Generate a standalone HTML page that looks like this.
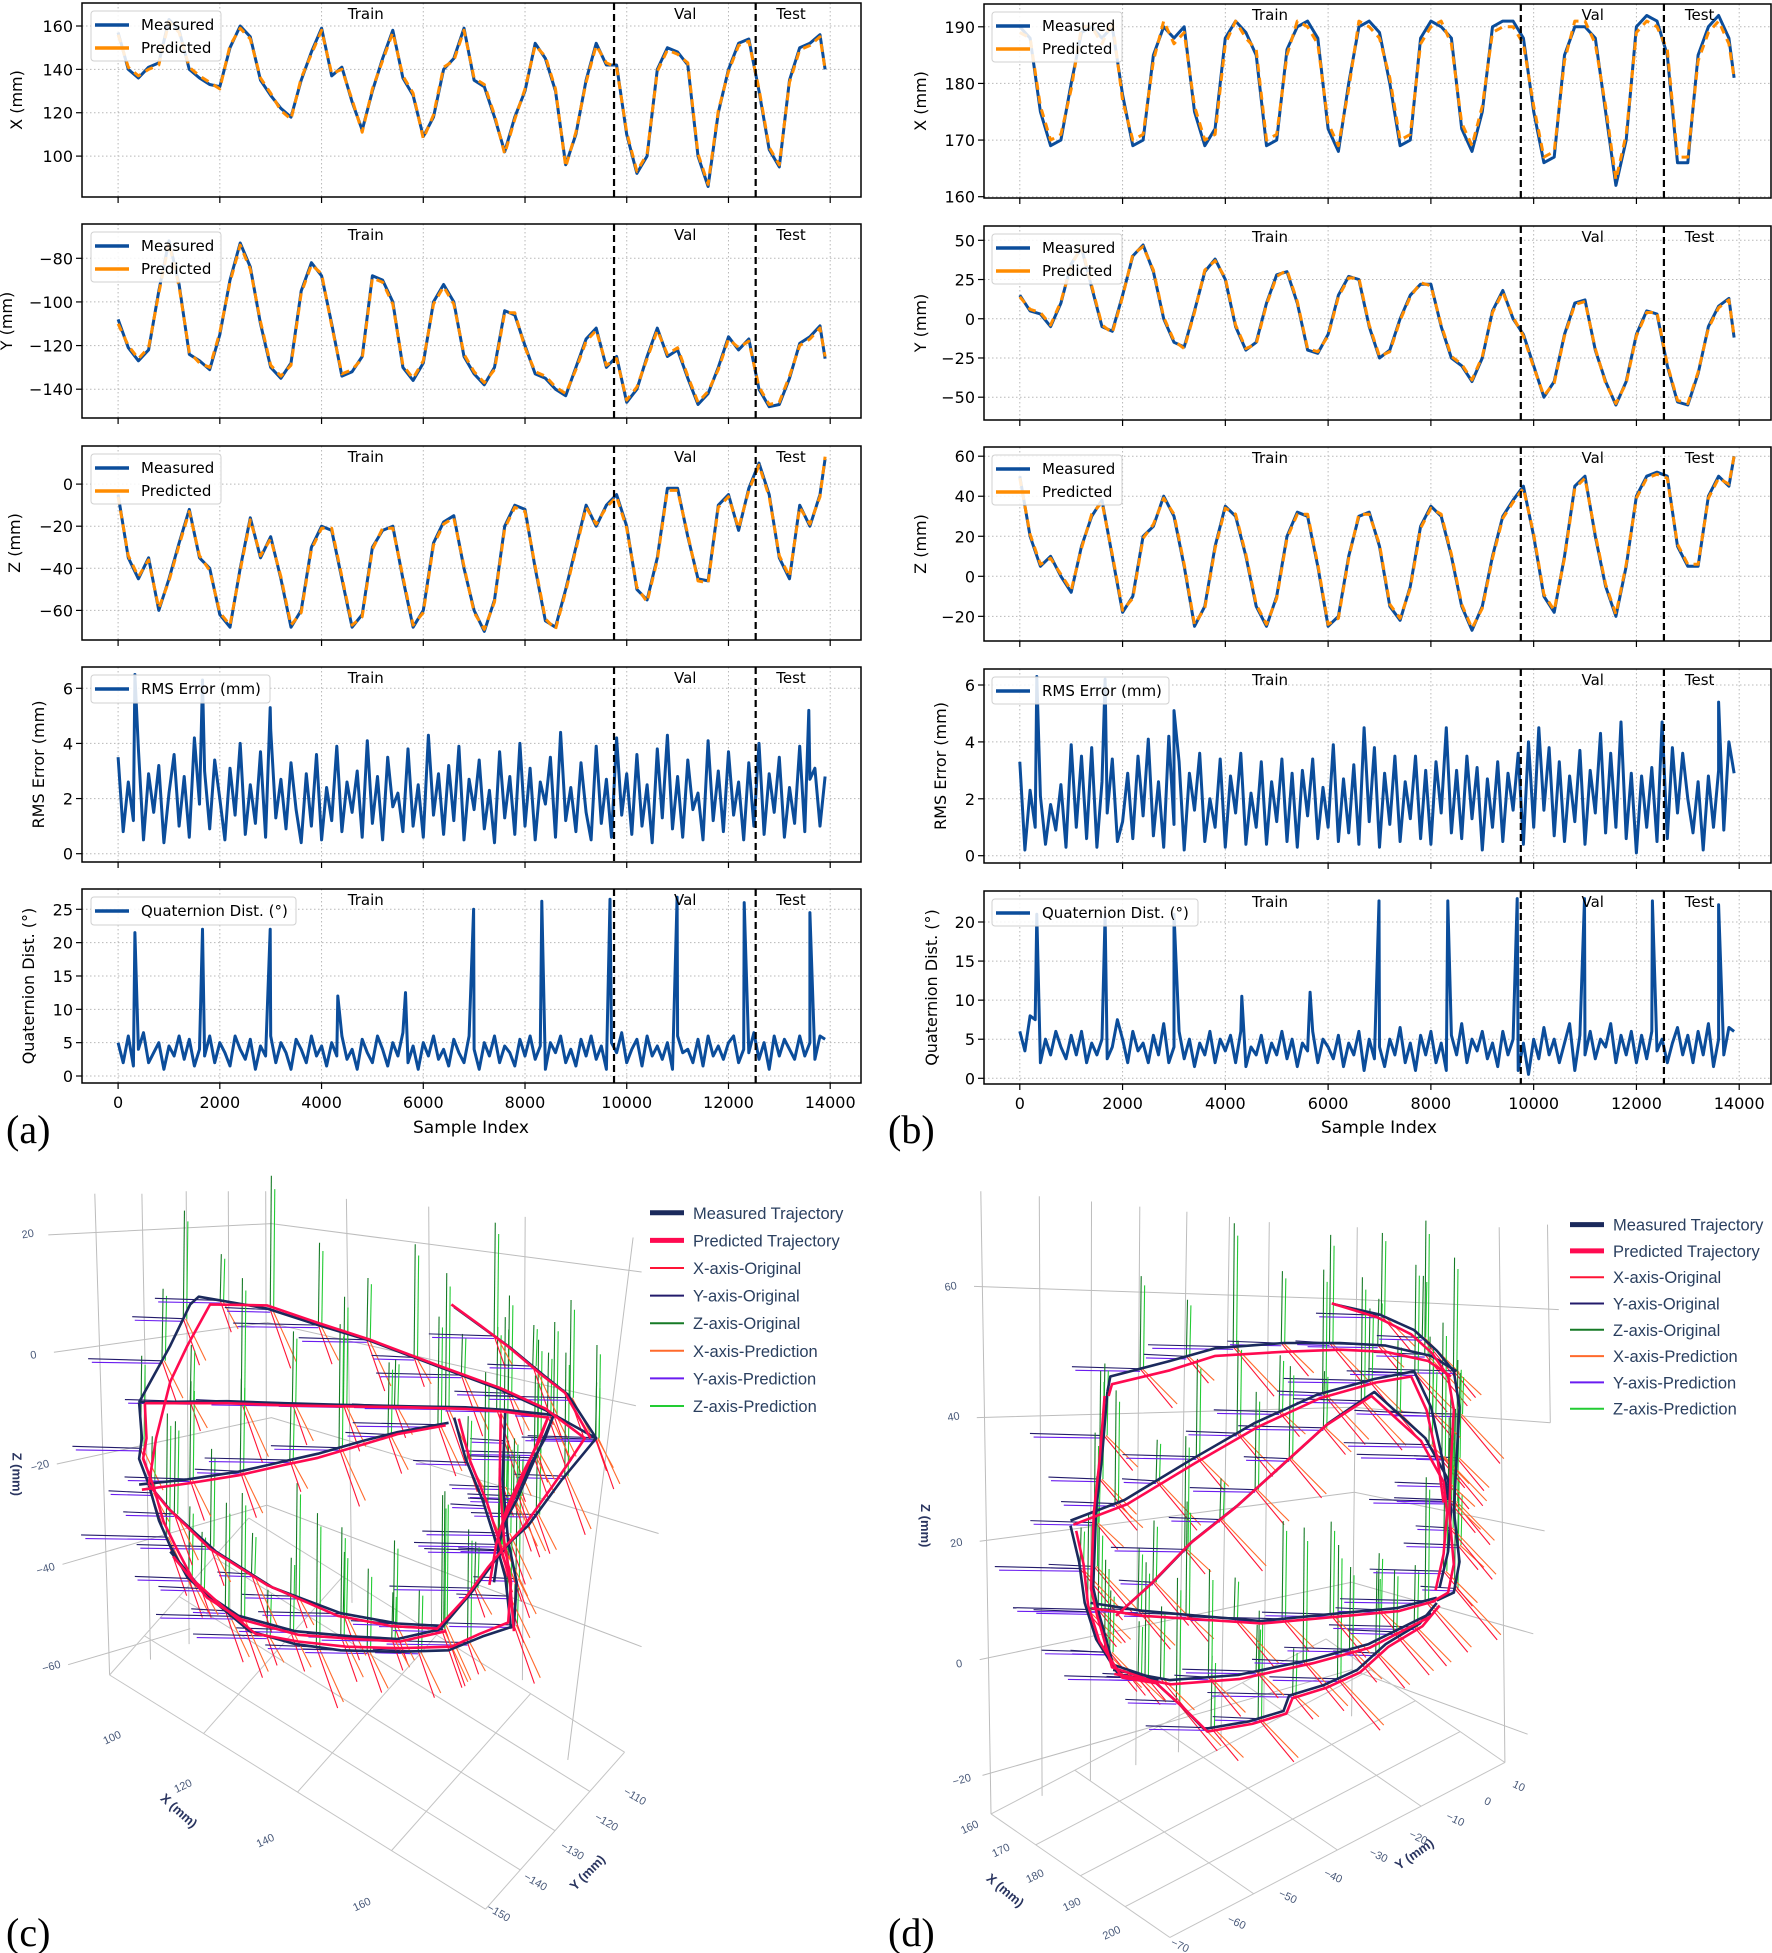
<!DOCTYPE html>
<html><head><meta charset="utf-8"><title>Trajectory prediction figure</title>
<style>html,body{margin:0;padding:0;background:#fff;}svg{display:block;}</style></head>
<body>
<svg id="fig" width="1772" height="1953" viewBox="0 0 1772 1953" xmlns="http://www.w3.org/2000/svg" font-family="'DejaVu Sans', sans-serif">
<rect x="0" y="0" width="1772" height="1953" fill="#fff"/>
</svg>
<script>
// ---------------- DATA ----------------
const sampleIdx = [0,200,400,600,800,1000,1200,1400,1600,1800,2000,2200,2400,2600,2800,3000,3200,3400,3600,3800,4000,4200,4400,4600,4800,5000,5200,5400,5600,5800,6000,6200,6400,6600,6800,7000,7200,7400,7600,7800,8000,8200,8400,8600,8800,9000,9200,9400,9600,9800,10000,10200,10400,10600,10800,11000,11200,11400,11600,11800,12000,12200,12400,12600,12800,13000,13200,13400,13600,13800,13900];
const xTickVals = [0,2000,4000,6000,8000,10000,12000,14000];
const xTickLabels = ['0','2000','4000','6000','8000','10000','12000','14000'];
const splitVal = 9750, splitTest = 12535;
const sectionNames = ['Train','Val','Test'];
const sectionPos = [4870,11150,13230];

// (a) left
const aXMeas = [157,140,136,141,143,163,158,140,136,133,132,150,160,155,135,128,122,118,135,148,159,137,141,125,112,130,145,158,136,128,109,118,140,145,159,135,132,118,102,118,130,152,145,130,96,110,135,152,142,142,110,92,100,140,150,148,142,100,86,120,140,152,154,130,103,95,135,150,152,156,140];
const aXPred = [156,141,137,140,142,162,157,141,137,134,131,151,159,154,136,129,121,117,136,147,158,138,140,126,111,131,144,157,137,129,108,119,141,144,158,136,133,119,101,117,131,151,146,131,95,111,134,151,143,141,111,93,101,139,149,147,143,101,87,121,139,151,153,131,104,96,134,149,151,155,140];
const aYMeas = [-108,-121,-127,-122,-95,-72,-92,-124,-127,-131,-115,-90,-73,-84,-110,-130,-135,-128,-95,-82,-88,-110,-134,-132,-125,-88,-90,-100,-130,-136,-128,-100,-92,-100,-125,-133,-138,-130,-104,-106,-120,-133,-135,-140,-143,-130,-117,-112,-130,-125,-146,-140,-125,-112,-125,-122,-135,-147,-142,-130,-116,-122,-117,-140,-148,-147,-135,-119,-116,-111,-126];
const aYPred = [-110,-120,-126,-121,-96,-73,-93,-123,-128,-130,-114,-91,-74,-85,-109,-129,-134,-129,-96,-83,-87,-111,-133,-131,-126,-89,-91,-101,-129,-135,-127,-101,-93,-101,-124,-132,-137,-131,-105,-105,-121,-132,-134,-139,-142,-131,-118,-113,-129,-126,-145,-139,-126,-113,-124,-121,-134,-146,-141,-131,-117,-121,-118,-139,-147,-146,-134,-120,-117,-112,-125];
const aZMeas = [-5,-35,-45,-35,-60,-45,-28,-12,-35,-40,-62,-68,-40,-16,-35,-25,-45,-68,-60,-30,-20,-22,-45,-68,-62,-30,-22,-20,-45,-68,-60,-28,-18,-15,-40,-60,-70,-55,-20,-10,-12,-40,-65,-68,-50,-30,-10,-20,-10,-5,-20,-50,-55,-35,-2,-2,-25,-45,-46,-10,-5,-22,-2,10,-5,-35,-45,-10,-20,-5,12];
const aZPred = [-6,-34,-44,-36,-59,-46,-29,-13,-34,-41,-61,-67,-41,-17,-34,-26,-44,-67,-61,-31,-21,-21,-44,-67,-63,-31,-21,-21,-44,-67,-61,-29,-19,-16,-39,-61,-69,-56,-21,-11,-13,-39,-64,-69,-51,-31,-11,-19,-11,-6,-21,-49,-56,-36,-3,-3,-24,-46,-47,-11,-6,-21,-3,9,-6,-34,-44,-11,-19,-6,13];
const aRms = [3.5,0.8,2.6,1.2,3.8,0.5,2.9,1.5,3.2,0.4,2.2,3.6,1.0,2.8,0.6,4.2,1.8,3.0,0.9,3.4,2.0,0.5,3.1,1.4,4.0,0.7,2.5,1.1,3.7,0.6,4.5,1.3,2.7,0.9,3.3,1.6,0.4,2.9,1.0,3.6,0.5,2.4,1.2,3.9,0.8,2.6,1.5,3.0,0.6,4.1,1.1,2.8,0.5,3.5,1.7,2.2,0.8,3.8,1.0,2.5,0.6,4.3,1.4,2.9,0.7,3.2,1.2,3.9,0.5,2.7,1.6,3.4,0.9,2.3,0.4,3.7,1.3,2.8,0.7,4.0,1.0,3.1,0.5,2.6,1.8,3.5,0.6,4.4,1.2,2.4,0.8,3.3,1.5,0.5,3.9,1.1,2.7,0.6,4.2,1.4,2.9,0.7,3.6,1.0,2.5,0.4,3.8,1.3,4.3,0.9,2.8,0.6,3.4,1.6,2.2,0.5,4.1,1.2,3.0,0.8,3.7,1.4,2.6,0.5,3.3,1.0,4.0,0.7,2.9,1.5,3.5,0.6,2.4,1.1,3.9,0.8,2.7,3.1,1.0,2.8];
const aRmsSpikeIdx = [330,1660,2990,13580];
const aRmsSpikeVal = [6.5,6.3,5.3,5.2];
const aQuat = [5,2,6,1.5,4,6.5,2,3.5,5,1,4.5,3,6,2.5,5.5,1.5,4,3,6,2,5,3.5,1.5,6,4,2.5,5.5,1,4.5,3,6,2,5,3.5,1,5.5,4,2,6,3,4.5,1.5,5,3,6,2.5,4,1,5.5,3.5,2,6,4,1.5,5,3,6.5,2,4.5,1,5,3,6,2.5,4,1.5,5.5,3.5,2,6,4,1,5,3,6,2,4.5,3.5,1.5,5.5,3,6,2.5,4.5,1,5,3.5,6,2,4,1.5,5.5,3,6,2.5,4.5,1,5,3.5,6.5,2,4,5.5,1.5,6,3,4.5,2.5,5,1,6,3.5,4,2,5.5,1.5,6,3,4.5,2.5,5,6,2,4,3.5,6.5,2.5,5,1,6,3,5.5,4,2.5,6,3,5,2.5,6,5.5];
const aQuatSpikeIdx = [330,1660,2990,4320,5650,6990,8330,9670,10990,12310,13600];
const aQuatSpikeVal = [21.5,22,22,12,12.5,25,26.2,26.5,26.8,26,24.5];

// (b) right
const bXMeas = [190,188,175,169,170,180,189,190,188,190,178,169,170,185,190,188,190,175,169,172,188,191,189,185,169,170,186,190,191,188,172,168,180,190,191,189,180,169,170,188,191,190,188,172,168,175,190,191,191,188,175,166,167,185,190,190,188,175,162,170,190,192,191,185,166,166,185,190,192,188,181];
const bXPred = [189,188,176,170,171,179,190,190,187,191,177,170,171,184,191,187,189,176,170,171,187,191,188,186,170,171,185,191,190,187,173,169,179,191,190,188,181,170,171,187,190,191,187,173,169,176,189,190,190,187,176,167,168,184,191,191,187,176,163,171,189,191,190,186,167,167,184,189,191,187,181];
const bYMeas = [15,5,3,-5,10,35,45,20,-5,-8,15,40,47,30,0,-15,-18,5,30,38,25,-5,-20,-15,10,28,30,10,-20,-22,-10,15,27,25,-5,-25,-20,0,15,22,22,-5,-25,-30,-40,-25,5,18,0,-10,-30,-50,-40,-10,10,12,-20,-40,-55,-40,-10,5,3,-30,-53,-55,-35,-5,8,13,-12];
const bYPred = [14,6,4,-4,11,34,46,21,-4,-9,14,41,46,31,1,-14,-19,4,31,37,26,-4,-19,-16,9,27,31,11,-19,-21,-11,14,26,26,-4,-24,-21,-1,14,23,21,-4,-24,-29,-39,-24,4,17,1,-11,-31,-49,-41,-11,9,11,-19,-41,-54,-41,-11,4,4,-29,-52,-54,-34,-6,7,12,-11];
const bZMeas = [50,20,5,10,0,-8,15,30,38,10,-18,-10,20,25,40,30,5,-25,-15,15,35,30,10,-15,-25,-10,20,32,30,5,-25,-20,10,30,32,15,-15,-22,-5,25,35,30,10,-15,-27,-15,10,30,38,45,20,-10,-18,10,45,50,20,-5,-20,5,40,50,52,50,15,5,5,40,50,45,60];
const bZPred = [49,21,6,9,1,-7,14,31,37,11,-17,-11,19,26,39,31,6,-24,-16,14,34,31,11,-14,-24,-11,19,31,31,6,-24,-21,9,31,31,16,-14,-21,-6,24,34,31,11,-14,-26,-16,9,29,37,44,21,-9,-17,9,44,49,21,-4,-19,6,39,49,51,49,16,6,6,39,49,46,60];
const bRms = [3.3,0.2,2.3,1.0,2.1,0.4,1.8,0.9,2.5,0.3,3.9,1.0,3.5,0.6,3.8,0.3,2.6,1.5,3.4,0.5,1.2,2.9,0.6,3.5,1.4,4.1,0.7,2.6,0.3,4.2,1.1,3.3,0.2,2.9,1.6,3.6,0.5,2.0,1.0,3.4,0.3,2.8,1.5,3.6,0.4,2.2,1.0,3.3,0.4,2.6,1.2,3.4,0.5,2.9,0.3,3.0,1.4,3.4,0.6,2.4,1.0,3.9,0.5,2.7,0.8,3.2,0.4,4.5,1.2,3.8,0.3,2.9,1.1,3.5,0.5,2.6,1.3,3.5,0.6,3.0,0.4,3.3,1.5,4.5,0.8,3.0,0.6,3.5,1.3,3.1,0.2,2.7,1.0,3.3,0.5,2.9,1.6,3.6,0.4,4.0,1.0,4.5,1.6,3.8,0.7,3.3,0.5,2.8,1.2,3.7,0.4,3.0,1.5,4.3,0.8,3.6,1.0,4.7,0.6,2.9,0.1,2.8,1.0,3.1,0.5,4.7,0.6,3.8,1.5,3.6,2.0,0.8,2.6,0.2,2.8,1.0,3.0,0.9,4.0,2.9];
const bRmsSpikeIdx = [330,1660,3000,13600];
const bRmsSpikeVal = [6.3,6.2,5.1,5.4];
const bQuat = [6,3.5,8,7.5,2,5,3,6,4,2.5,5.5,3,6,2,4.5,3,5,2.5,4,7.5,5,2,6,3.5,4.5,2,5.5,3,7,2,4,6,2.5,5,1.5,4.5,3,6,2,5,3.5,5.5,2,6,1.5,4,3,5.5,2,4.5,3,6,2.5,5,1.5,4.5,3.5,6,2,5,4,2.5,5.5,1.5,4.5,3,6,1,5,2.5,4,1.5,5,3,6.5,2,4.5,1,5.5,3,6,2,4.5,1,5.5,3,7,2,5,3.5,6,2.5,4.5,1.5,6,3,5,1,4.5,0.5,5,2.5,6.5,3,5,2,4.5,7,1,5.5,3,6,2.5,5,4,7,2,5.5,3,6,2,5.5,2.5,6,3.5,5,2,4.5,6.5,3,5.5,2,6,3,7,1.5,5,3,6.5,6];
const bQuatSpikeIdx = [330,1660,3000,4320,5650,6990,8330,9680,10990,12310,13600];
const bQuatSpikeVal = [21,21,21,10.5,11,22.7,22.7,23,23,22.7,22.2];

// ---------------- HELPERS ----------------
const NS = 'http://www.w3.org/2000/svg';
const svg = document.getElementById('fig');
function mk(tag, attrs, parent, text) {
  const e = document.createElementNS(NS, tag);
  for (const k in attrs) e.setAttribute(k, attrs[k]);
  if (text !== undefined) e.textContent = text;
  (parent || svg).appendChild(e);
  return e;
}
function fmt(v) { return (v < 0 ? '\u2212' + Math.abs(v) : String(v)); }
function mergeSeries(base, spIdx, spVal) {
  const pts = base.map((v, i) => [i * 100, v]);
  spIdx.forEach((s, j) => pts.push([s, spVal[j]]));
  pts.sort((a, b) => a[0] - b[0]);
  return pts;
}

const BLUE = '#0b4d9b', ORANGE = '#ff8c00';

function drawPanel(P) {
  const g = mk('g', {}, svg);
  
  
  const sx = v => P.sx0 + (v / 14000) * (P.sx1 - P.sx0);
  const sy = v => P.py0 + (v - P.v0) * (P.py1 - P.py0) / (P.v1 - P.v0);
  xTickVals.forEach((t, i) => {
    const x = sx(t);
    const gl = mk('line', {x1: x, x2: x, y1: P.y0, y2: P.y1, stroke: '#b8b8b8', 'stroke-width': 1, 'stroke-dasharray': '1.5,2.5'}, g);
    
    
    const tk = mk('line', {x1: x, x2: x, y1: P.y1, y2: P.y1 + 6, stroke: '#000', 'stroke-width': 1.2}, g);
    
    
    if (P.xlabels) {
      const tl = mk('text', {x: x, y: P.y1 + 25, 'text-anchor': 'middle', 'font-size': 16, fill: '#000'}, g, xTickLabels[i]);
      
      
    }
  });
  P.yticks.forEach(t => {
    const y = sy(t);
    const gl = mk('line', {x1: P.x0, x2: P.x1, y1: y, y2: y, stroke: '#b8b8b8', 'stroke-width': 1, 'stroke-dasharray': '1.5,2.5'}, g);
    
    
    const tk = mk('line', {x1: P.x0 - 6, x2: P.x0, y1: y, y2: y, stroke: '#000', 'stroke-width': 1.2}, g);
    
    
    const tl = mk('text', {x: P.x0 - 9, y: y + 6, 'text-anchor': 'end', 'font-size': 16, fill: '#000'}, g, fmt(t));
    
    
  });
  const yl = mk('text', {x: 0, y: 0, 'text-anchor': 'middle', 'font-size': 16, fill: '#000', transform: `translate(${P.ylx},${(P.y0 + P.y1) / 2}) rotate(-90)`}, g, P.ylabel);
  
  
  P.series.forEach(S => {
    const d = S.pts.map((p, i) => (i ? 'L' : 'M') + sx(p[0]).toFixed(1) + ',' + sy(p[1]).toFixed(1)).join('');
    const attrs = {d: d, fill: 'none', stroke: S.color, 'stroke-width': S.w || 3, 'stroke-linejoin': 'round'};
    if (S.dash) attrs['stroke-dasharray'] = S.dash;
    const pe = mk('path', attrs, g);
    
    
  });
  [splitVal, splitTest].forEach(s => {
    const l = mk('line', {x1: sx(s), x2: sx(s), y1: P.y0, y2: P.y1, stroke: '#000', 'stroke-width': 2.2, 'stroke-dasharray': '7,4'}, g);
    
    
  });
  sectionNames.forEach((n, i) => {
    const t = mk('text', {x: sx(sectionPos[i]), y: P.y0 + 16, 'text-anchor': 'middle', 'font-size': 15, fill: '#000'}, g, n);
    
    
  });
  const fr = mk('rect', {x: P.x0, y: P.y0, width: P.x1 - P.x0, height: P.y1 - P.y0, fill: 'none', stroke: '#000', 'stroke-width': 1.5}, g);
  
  
  const L = P.legend;
  const lb = mk('rect', {x: L.x, y: L.y, width: L.w, height: L.h, rx: 3, fill: '#fff', 'fill-opacity': 0.85, stroke: '#d0d0d0', 'stroke-width': 1}, g);
  
  
  L.items.forEach((it, i) => {
    const yy = L.y + 14 + i * 23;
    const ll = mk('line', {x1: L.x + 4, x2: L.x + 38, y1: yy, y2: yy, stroke: it.color, 'stroke-width': 3.5}, g);
    
    
    const lt = mk('text', {x: L.x + 50, y: yy + 5, 'font-size': 15, fill: '#000'}, g, it.label);
    
    
  });
}

function xyzPanel(name, x0, x1, sx0, sx1, y0, y1, v0, py0, v1, py1, yticks, ylabel, ylx, meas, pred, legX) {
  drawPanel({name, x0, x1, sx0, sx1, y0, y1, v0, py0, v1, py1, yticks, ylabel, ylx,
    series: [
      {name: 'measured-line', pts: sampleIdx.map((s, i) => [s, meas[i]]), color: BLUE},
      {name: 'predicted-line', pts: sampleIdx.map((s, i) => [s, pred[i]]), color: ORANGE, dash: '8,6'}],
    legend: {x: legX, y: y0 + 8, w: 130, h: 50, items: [{label: 'Measured', color: BLUE}, {label: 'Predicted', color: ORANGE}]}});
}

const LX0 = 82, LX1 = 861, LS0 = 118.1, LS1 = 830.2;
xyzPanel('panel-a-x', LX0, LX1, LS0, LS1, 3, 197, 160, 26.0, 100, 156.1, [100,120,140,160], 'X (mm)', 22, aXMeas, aXPred, 91);
xyzPanel('panel-a-y', LX0, LX1, LS0, LS1, 224, 418, -80, 258.3, -140, 389.2, [-140,-120,-100,-80], 'Y (mm)', 12, aYMeas, aYPred, 91);
xyzPanel('panel-a-z', LX0, LX1, LS0, LS1, 446, 640, 0, 484.1, -60, 610.4, [-60,-40,-20,0], 'Z (mm)', 20, aZMeas, aZPred, 91);
drawPanel({name: 'panel-a-rms', x0: LX0, x1: LX1, sx0: LS0, sx1: LS1, y0: 667, y1: 862, v0: 6, py0: 688.3, v1: 0, py1: 853.7,
  yticks: [0,2,4,6], ylabel: 'RMS Error (mm)', ylx: 44,
  series: [{name: 'rms-error-line', pts: mergeSeries(aRms, aRmsSpikeIdx, aRmsSpikeVal), color: BLUE, w: 3}],
  legend: {x: 91, y: 675, w: 179, h: 28, items: [{label: 'RMS Error (mm)', color: BLUE}]}});
drawPanel({name: 'panel-a-quat', x0: LX0, x1: LX1, sx0: LS0, sx1: LS1, y0: 889, y1: 1083, v0: 25, py0: 909.3, v1: 0, py1: 1076,
  yticks: [0,5,10,15,20,25], ylabel: 'Quaternion Dist. (°)', ylx: 34, xlabels: true,
  series: [{name: 'quaternion-dist-line', pts: mergeSeries(aQuat, aQuatSpikeIdx, aQuatSpikeVal), color: BLUE, w: 3}],
  legend: {x: 91, y: 897, w: 205, h: 28, items: [{label: 'Quaternion Dist. (°)', color: BLUE}]}});

const RX0 = 984, RX1 = 1771, RS0 = 1019.8, RS1 = 1739.2;
xyzPanel('panel-b-x', RX0, RX1, RS0, RS1, 4, 198, 190, 26.8, 160, 196.7, [160,170,180,190], 'X (mm)', 926, bXMeas, bXPred, 992);
xyzPanel('panel-b-y', RX0, RX1, RS0, RS1, 226, 420, 50, 240.3, -50, 397.2, [-50,-25,0,25,50], 'Y (mm)', 926, bYMeas, bYPred, 992);
xyzPanel('panel-b-z', RX0, RX1, RS0, RS1, 447, 641, 60, 456.2, 0, 576.3, [-20,0,20,40,60], 'Z (mm)', 926, bZMeas, bZPred, 992);
drawPanel({name: 'panel-b-rms', x0: RX0, x1: RX1, sx0: RS0, sx1: RS1, y0: 669, y1: 863, v0: 6, py0: 685, v1: 0, py1: 855.7,
  yticks: [0,2,4,6], ylabel: 'RMS Error (mm)', ylx: 946,
  series: [{name: 'rms-error-line', pts: mergeSeries(bRms, bRmsSpikeIdx, bRmsSpikeVal), color: BLUE, w: 3}],
  legend: {x: 992, y: 677, w: 177, h: 27, items: [{label: 'RMS Error (mm)', color: BLUE}]}});
drawPanel({name: 'panel-b-quat', x0: RX0, x1: RX1, sx0: RS0, sx1: RS1, y0: 891, y1: 1084, v0: 20, py0: 922, v1: 0, py1: 1078.3,
  yticks: [0,5,10,15,20], ylabel: 'Quaternion Dist. (°)', ylx: 937, xlabels: true,
  series: [{name: 'quaternion-dist-line', pts: mergeSeries(bQuat, bQuatSpikeIdx, bQuatSpikeVal), color: BLUE, w: 3}],
  legend: {x: 992, y: 899, w: 206, h: 27, items: [{label: 'Quaternion Dist. (°)', color: BLUE}]}});

[[471, 'x-axis-title-a'], [1379, 'x-axis-title-b']].forEach(a => {
  const t = mk('text', {x: a[0], y: 1133, 'text-anchor': 'middle', 'font-size': 17, fill: '#000'}, svg, 'Sample Index');
  
  
});

// ---------------- 3D PANELS ----------------
const cMeas = [
 [[245,490],[250,560],[245,600],[262,650],[280,720],[300,770],[330,830],[380,880],[440,935],[520,960],[600,972],[700,975],[790,972],[850,945],[905,925],[910,840],[895,760],[885,640],[890,510]],
 [[245,490],[300,380],[335,300],[350,285],[470,308],[560,340],[650,370],[770,420],[880,465],[960,505],[1050,560],[1020,600],[990,640],[930,730],[900,760],[870,800],[830,860],[780,925],[700,920],[600,900],[480,850],[380,780],[300,700],[262,650]],
 [[245,490],[400,488],[500,492],[600,495],[720,498],[820,500],[890,505],[975,515],[950,580],[910,680],[880,740]],
 [[245,650],[330,640],[420,625],[500,605],[560,590],[640,565],[700,548],[790,530]],
 [[800,520],[820,600],[850,680],[870,750],[890,830],[900,930]],
 [[800,305],[850,345],[900,385],[960,440],[1000,475],[1050,560]],
 [[300,780],[360,860],[420,905],[520,935],[620,945],[700,950],[780,930]],
 [[975,515],[960,560],[930,620],[900,690],[880,760],[870,840]]];
const cPred = [
 [[255,492],[258,560],[252,600],[270,652],[288,722],[310,772],[340,835],[390,885],[450,940],[525,955],[610,965],[705,968],[795,965],[845,940],[895,918],[900,840],[888,760],[880,640],[882,512]],
 [[262,650],[275,560],[300,450],[330,380],[370,300],[470,302],[560,336],[650,368],[770,418],[880,462],[960,502],[1030,560],[1000,610],[975,650],[920,735],[890,770],[860,810],[820,870],[770,930],[690,925],[595,905],[470,845],[370,775],[295,695],[262,650]],
 [[255,492],[400,492],[500,496],[600,498],[720,500],[820,503],[885,508],[965,520],[940,585],[900,690],[875,750]],
 [[250,660],[330,648],[420,632],[500,612],[560,598],[640,572],[700,552],[785,535]],
 [[808,522],[828,604],[858,686],[878,756],[898,836],[905,935]],
 [[795,300],[845,340],[895,382],[955,438],[995,472],[1040,560]],
 [[305,790],[365,870],[425,912],[525,942],[625,950],[705,955],[785,935]],
 [[965,520],[950,565],[922,625],[893,695],[874,765],[862,845]]];
const dMeas = [
 [[390,470],[395,440],[500,410],[580,385],[700,375],[800,375],[880,380],[960,400],[1005,430]],
 [[790,300],[870,320],[930,350],[970,390],[1000,430],[1010,500],[1005,600],[1000,700],[1010,800],[1000,860],[970,875]],
 [[390,470],[380,600],[370,700],[365,850],[375,900],[400,1000],[480,1030]],
 [[325,730],[340,800],[350,880],[370,950],[410,1020],[470,1030],[520,1080],[560,1125],[640,1110],[700,1090],[710,1060],[770,1040],[830,1010],[880,960],[940,920],[970,880]],
 [[325,720],[420,680],[540,600],[650,530],[760,475],[860,445],[930,430],[960,500],[980,600],[990,680]],
 [[410,900],[470,840],[540,760],[620,690],[700,610],[780,530],[860,470],[950,560],[990,640],[995,700],[990,780],[975,850]],
 [[360,880],[450,895],[550,905],[660,915],[800,900],[900,890],[970,870]],
 [[400,1010],[500,1030],[620,1020],[750,990],[850,960],[960,900]]];
const dPred = [
 [[392,478],[398,455],[500,428],[580,400],[700,392],[800,388],[880,392],[955,410],[995,440]],
 [[785,298],[865,325],[925,358],[962,395],[990,440],[1000,505],[995,605],[992,705],[1000,805],[990,860],[962,878]],
 [[385,478],[376,605],[366,705],[361,852],[372,905],[398,1005],[478,1035]],
 [[335,740],[348,805],[356,885],[376,955],[416,1025],[476,1036],[526,1086],[566,1130],[645,1115],[705,1095],[716,1065],[775,1045],[835,1015],[885,965],[945,925],[975,885]],
 [[330,728],[425,688],[545,608],[655,538],[765,482],[862,452],[925,440],[952,505],[972,605],[982,685]],
 [[405,905],[465,845],[535,765],[615,695],[695,615],[775,535],[855,478],[942,565],[982,645],[988,705],[982,785],[968,855]],
 [[362,890],[452,905],[552,912],[662,920],[802,906],[902,896],[968,876]],
 [[402,1018],[502,1038],[622,1028],[752,997],[852,967],[958,907]]];
const spikeZLen = [180,110,240,140,210,90,260,160,120,220,80,190];
const spikeYLen = [120,75,150,95,60,130,90,115,80,150];
const spikeXLen = [95,65,120,80,105,60,125,85];
const legendLabels = ['Measured Trajectory','Predicted Trajectory','X-axis-Original','Y-axis-Original','Z-axis-Original','X-axis-Prediction','Y-axis-Prediction','Z-axis-Prediction'];
const legendColors = ['#1b2a5c','#ff0a50','#ff1436','#231b6b','#167a26','#ff6a2c','#6a1cf0','#22cc33'];

const SX = 0.5678, SY = 0.5147;
function draw3D(cfg) {
  const ox = cfg.ox;
  const F = p => [ox + p[0] * SX, 1150 + p[1] * SY];
  const g = mk('g', {}, svg);
  
  
  cfg.grid.forEach(line => {
    const d = line.map((p, i) => { const q = F(p); return (i ? 'L' : 'M') + q[0].toFixed(1) + ',' + q[1].toFixed(1); }).join('');
    const e = mk('path', {d: d, fill: 'none', stroke: '#bdbdbd', 'stroke-width': 1}, g);
    
    
  });
  const A = cfg.floor[0], B = cfg.floor[1], C = cfg.floor[2];
  const ex = [B[0] - A[0], B[1] - A[1]], ey = [C[0] - B[0], C[1] - B[1]];
  for (let k = 0; k <= 4; k++) {
    const t = k / 4;
    const p1 = [A[0] + ex[0] * t, A[1] + ex[1] * t], p2 = [p1[0] + ey[0], p1[1] + ey[1]];
    const q1 = [A[0] + ey[0] * t, A[1] + ey[1] * t], q2 = [q1[0] + ex[0], q1[1] + ex[1]];
    [[p1, p2], [q1, q2]].forEach(seg => {
      const a = F(seg[0]), b = F(seg[1]);
      const e = mk('line', {x1: a[0], y1: a[1], x2: b[0], y2: b[1], stroke: '#c4c4c4', 'stroke-width': 1}, g);
      
      
    });
  }
  let n = 0;
  cfg.meas.forEach(path => {
    let acc = 0;
    for (let i = 1; i < path.length; i++) {
      const a = path[i - 1], b = path[i];
      const L = Math.hypot(b[0] - a[0], b[1] - a[1]);
      for (let s = (cfg.step - acc); s < L; s += cfg.step) {
        const t = s / L, p = [a[0] + (b[0] - a[0]) * t, a[1] + (b[1] - a[1]) * t];
        const zl = spikeZLen[n % spikeZLen.length], yl = spikeYLen[n % spikeYLen.length], xl = spikeXLen[n % spikeXLen.length];
        const sets = [
          [[p[0], p[1]], [p[0] + 2, p[1] - zl], '#167a26'],
          [[p[0] + 6, p[1]], [p[0] + 8, p[1] - zl * 0.9], '#22cc33'],
          [[p[0], p[1]], [p[0] - yl, p[1] - 4], '#231b6b'],
          [[p[0], p[1] + 5], [p[0] - yl * 0.95, p[1] + 3], '#6a1cf0'],
          [[p[0], p[1]], [p[0] + xl * cfg.xd[0], p[1] + xl * cfg.xd[1]], '#ff1436'],
          [[p[0] + 4, p[1]], [p[0] + 4 + xl * 0.9 * cfg.xd[0] + 10, p[1] + xl * 0.9 * cfg.xd[1]], '#ff6a2c']];
        sets.forEach(sp => {
          const u = F(sp[0]), v = F(sp[1]);
          const e = mk('line', {x1: u[0], y1: u[1], x2: v[0], y2: v[1], stroke: sp[2], 'stroke-width': 1.1}, g);
          
          
        });
        n++;
      }
      acc = (acc + L) % cfg.step;
    }
  });
  [[cfg.meas, '#1b2a5c', 'measured-trajectory'], [cfg.pred, '#ff0a50', 'predicted-trajectory']].forEach(set => {
    set[0].forEach(path => {
      const d = path.map((p, i) => { const q = F(p); return (i ? 'L' : 'M') + q[0].toFixed(1) + ',' + q[1].toFixed(1); }).join('');
      const e = mk('path', {d: d, fill: 'none', stroke: set[1], 'stroke-width': 2.6, 'stroke-linejoin': 'round'}, g);
      
      
    });
  });
  cfg.ticks.forEach(tk => {
    const q = F([tk[0], tk[1]]);
    const e = mk('text', {x: q[0], y: q[1], 'text-anchor': 'middle', 'font-size': 11, fill: '#4a5a7a', 'font-family': "'Liberation Sans', sans-serif", transform: `rotate(${tk[3]},${q[0]},${q[1]})`}, g, tk[2]);
    
    
  });
  cfg.titles.forEach(tt => {
    const q = F([tt[0], tt[1]]);
    const e = mk('text', {x: q[0], y: q[1], 'text-anchor': 'middle', 'font-size': 13, 'font-weight': 'bold', fill: '#2a3560', 'font-family': "'Liberation Sans', sans-serif", transform: `rotate(${tt[3]},${q[0]},${q[1]})`}, g, tt[2]);
    
    
  });
  legendLabels.forEach((lab, i) => {
    const y = cfg.leg.y0 + i * cfg.leg.dy;
    const sw = mk('line', {x1: cfg.leg.x, x2: cfg.leg.x + 34, y1: y, y2: y, stroke: legendColors[i], 'stroke-width': i < 2 ? 5 : 2}, g);
    
    
    const tx = mk('text', {x: cfg.leg.x + 43, y: y + 6, 'font-size': 16.5, fill: '#2a3f5f', 'font-family': "'Liberation Sans', sans-serif"}, g, lab);
    
    
  });
}

draw3D({name: 'panel-c-3d', ox: 0, meas: cMeas, pred: cPred, step: 90, xd: [0.3, 0.95],
  grid: [
    [[85,165],[478,143],[1130,237]], [[95,393],[470,335],[1120,497]], [[100,610],[478,520],[1160,745]],
    [[110,805],[470,690],[1130,965]], [[120,1000],[335,930]],
    [[167,85],[193,1020]], [[250,85],[265,990]], [[328,80],[333,960]], [[402,80],[405,930]], [[468,80],[470,900]],
    [[610,95],[620,880]], [[755,110],[760,930]], [[925,130],[920,1030]], [[1115,170],[1000,1185]]],
  floor: [[193,1020],[855,1475],[1100,1170]],
  ticks: [[50,170,'20',-10],[60,405,'0',-10],[72,620,'\u221220',-15],[82,820,'\u221240',-15],[92,1010,'\u221260',-15],
    [200,1148,'100',-25],[325,1242,'120',-25],[470,1348,'140',-25],[640,1472,'160',-25],
    [1115,1262,'\u2212110',30],[1065,1312,'\u2212120',30],[1005,1368,'\u2212130',30],[940,1428,'\u2212140',30],[875,1488,'\u2212150',30]],
  titles: [[22,630,'Z (mm)',90],[310,1290,'X (mm)',42],[1040,1410,'Y (mm)',-45]],
  leg: {x: 650, y0: 1212.8, dy: 27.6}});

draw3D({name: 'panel-d-3d', ox: 886, meas: dMeas, pred: dPred, step: 85, xd: [0.6, 0.8],
  grid: [
    [[155,265],[820,290],[1185,310]], [[160,520],[820,500],[1170,530]], [[165,760],[825,665],[1160,740]],
    [[165,990],[820,840],[1140,940]], [[170,1215],[820,1010],[1130,1135]],
    [[167,80],[185,1290]], [[270,90],[275,1255]], [[362,100],[360,1225]], [[447,110],[440,1195]], [[530,120],[515,1170]],
    [[605,130],[590,1145]], [[675,140],[665,1120]], [[830,150],[820,1100]], [[1080,150],[1090,1190]], [[1165,145],[1170,530]]],
  floor: [[185,1290],[500,1530],[1090,1190]],
  ticks: [[115,272,'60',-10],[120,525,'40',-10],[125,770,'20',-10],[130,1005,'0',-10],[135,1230,'\u221220',-15],
    [150,1322,'160',-25],[205,1367,'170',-25],[265,1417,'180',-25],[330,1472,'190',-25],[400,1527,'200',-25],
    [1112,1242,'10',25],[1057,1272,'0',25],[1000,1307,'\u221210',25],[935,1342,'\u221220',25],[865,1377,'\u221230',25],
    [785,1417,'\u221240',25],[705,1457,'\u221250',25],[615,1507,'\u221260',25],[515,1552,'\u221270',25]],
  titles: [[62,730,'Z (mm)',90],[205,1445,'X (mm)',40],[935,1375,'Y (mm)',-35]],
  leg: {x: 1570, y0: 1224.6, dy: 26.3}});

[['(a)', 6, 1143], ['(b)', 888, 1143], ['(c)', 6, 1946], ['(d)', 888, 1946]].forEach(L => {
  const t = mk('text', {x: L[1], y: L[2], 'font-size': 40, fill: '#000', 'font-family': "'Liberation Serif', serif"}, svg, L[0]);
  
  
});
</script>
</body></html>
